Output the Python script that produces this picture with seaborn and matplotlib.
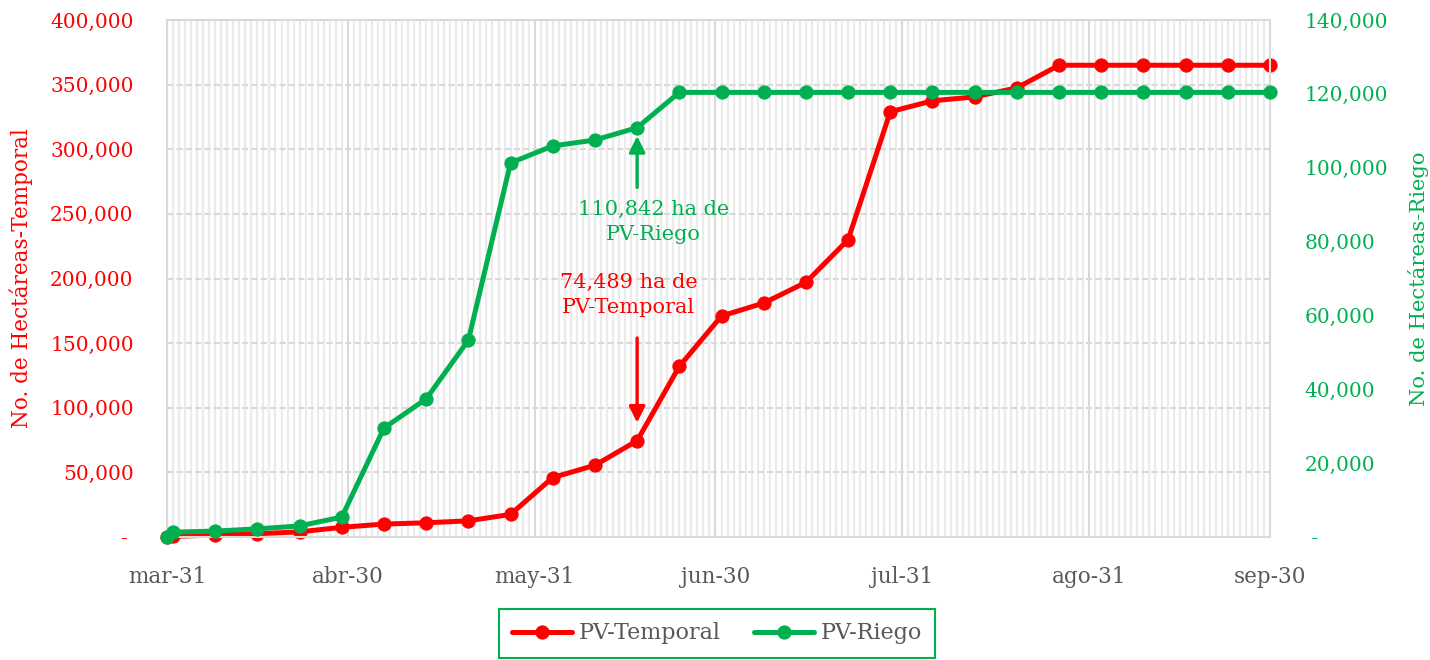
import pandas as pd
import matplotlib
matplotlib.use('Agg')
import matplotlib.pyplot as plt
import matplotlib.dates as mdates
import matplotlib.ticker as mticker
import seaborn as sns

# ---------------- datos ----------------
fechas = ['2019-03-31', '2019-04-01',
          '2019-04-08', '2019-04-15', '2019-04-22', '2019-04-29',
          '2019-05-06', '2019-05-13', '2019-05-20', '2019-05-27',
          '2019-06-03', '2019-06-10', '2019-06-17', '2019-06-24',
          '2019-07-01', '2019-07-08', '2019-07-15', '2019-07-22', '2019-07-29',
          '2019-08-05', '2019-08-12', '2019-08-19', '2019-08-26',
          '2019-09-02', '2019-09-09', '2019-09-16', '2019-09-23', '2019-09-30']

pv_temporal = [0, 500, 1500, 2500, 4000, 7500, 10000, 11000, 12500, 17500,
               46000, 55500, 74489, 132000, 171000, 181000, 197000, 230000,
               329000, 337500, 340500, 347500, 365000, 365000, 365000, 365000,
               365000, 365000]

pv_riego = [0, 1300, 1600, 2200, 3000, 5400, 29500, 37400, 53300, 101300,
            105900, 107500, 110842, 120400, 120400, 120400, 120400, 120400,
            120400, 120400, 120400, 120400, 120400, 120400, 120400, 120400,
            120400, 120400]

ticks_x = ['2019-03-31', '2019-04-30', '2019-05-31', '2019-06-30',
           '2019-07-31', '2019-08-31', '2019-09-30']
etiquetas_x = ['mar-31', 'abr-30', 'may-31', 'jun-30', 'jul-31', 'ago-31', 'sep-30']

fecha_nota = '2019-06-17'
nota_temporal = '74,489 ha de\nPV-Temporal'
nota_riego = '110,842 ha de\nPV-Riego'

ROJO = '#ff0000'
VERDE = '#00b050'
GRIS = '#595959'

df = pd.DataFrame({'fecha': pd.to_datetime(fechas),
                   'temporal': pv_temporal,
                   'riego': pv_riego})

sns.set_style('white')
plt.rcParams['font.family'] = ['DejaVu Serif']

fig = plt.figure(figsize=(14.3, 6.6), dpi=100)
ax = fig.add_axes([167 / 1430, 1 - 537 / 660, 1103 / 1430, 517 / 660])
ax2 = ax.twinx()

sns.lineplot(data=df, x='fecha', y='temporal', ax=ax, color=ROJO, linewidth=3.6,
             marker='o', markersize=9.5, markeredgecolor=ROJO, label='PV-Temporal',
             legend=False)
sns.lineplot(data=df, x='fecha', y='riego', ax=ax2, color=VERDE, linewidth=3.6,
             marker='o', markersize=9.5, markeredgecolor=VERDE, label='PV-Riego',
             legend=False)
for ln in ax.lines + ax2.lines:
    ln.set_clip_on(False)

# ejes y
ax.set_ylim(0, 400000)
ax2.set_ylim(0, 140000)
ax.yaxis.set_major_locator(mticker.MultipleLocator(50000))
ax2.yaxis.set_major_locator(mticker.MultipleLocator(20000))
fmt_izq = mticker.FuncFormatter(lambda v, p: '- ' if v == 0 else f'{v:,.0f}')
fmt_der = mticker.FuncFormatter(lambda v, p: ' -' if v == 0 else f'{v:,.0f}')
ax.yaxis.set_major_formatter(fmt_izq)
ax2.yaxis.set_major_formatter(fmt_der)
ax.tick_params(axis='y', colors=ROJO, labelsize=14.5, length=0, pad=24)
ax2.tick_params(axis='y', colors=VERDE, labelsize=14.5, length=0, pad=25)
ax.set_ylabel('No. de Hectáreas-Temporal', color=ROJO, fontsize=15.5, labelpad=12)
ax2.set_ylabel('No. de Hectáreas-Riego', color=VERDE, fontsize=15.2, labelpad=14)

# eje x
ax.set_xlim(pd.Timestamp(ticks_x[0]), pd.Timestamp(ticks_x[-1]))
ax.set_xticks(pd.to_datetime(ticks_x))
ax.set_xticklabels(etiquetas_x)
ax.xaxis.set_minor_locator(mdates.DayLocator())
ax.tick_params(axis='x', which='major', colors='#d9d9d9', labelcolor=GRIS,
               labelsize=15.5, length=6, width=1.5, pad=15, direction='out')
ax.tick_params(axis='x', which='minor', length=0)
ax.set_xlabel('')

# rejilla
ax.grid(True, axis='x', which='minor', color='#ebebeb', linewidth=1.6)
ax.grid(True, axis='x', which='major', color='#d9d9d9', linewidth=1.5)
ax.grid(True, axis='y', which='major', color='#d9d9d9', linewidth=1.5, linestyle=(0, (3, 1.5)))
ax.set_axisbelow(True)
for s in ax.spines.values():
    s.set_color('#d9d9d9')
    s.set_linewidth(1.5)
for s in ax2.spines.values():
    s.set_visible(False)

# anotaciones
x_nota = pd.Timestamp(fecha_nota)
y_temp = df.loc[df['fecha'] == x_nota, 'temporal'].iloc[0]
y_riego = df.loc[df['fecha'] == x_nota, 'riego'].iloc[0]

ax.annotate('', xy=(x_nota, y_temp), xytext=(0, 74), textcoords='offset points',
            arrowprops=dict(arrowstyle='-|>', color=ROJO, lw=2.4, mutation_scale=24,
                            shrinkA=0, shrinkB=13))
ax.annotate(nota_temporal, xy=(x_nota, y_temp), xytext=(-6, 105), textcoords='offset points',
            ha='center', va='center', color=ROJO, fontsize=15, linespacing=1.42)
ax2.annotate('', xy=(x_nota, y_riego), xytext=(0, -43), textcoords='offset points',
             arrowprops=dict(arrowstyle='-|>', color=VERDE, lw=2.4, mutation_scale=24,
                             shrinkA=0, shrinkB=6))
ax2.annotate(nota_riego, xy=(x_nota, y_riego), xytext=(12, -68), textcoords='offset points',
             ha='center', va='center', color=VERDE, fontsize=15, linespacing=1.42)

# leyenda
h1, l1 = ax.get_legend_handles_labels()
h2, l2 = ax2.get_legend_handles_labels()
leg = fig.legend(h1 + h2, l1 + l2, loc='upper center', bbox_to_anchor=(717 / 1430, 1 - 609 / 660),
                 ncol=2, fontsize=16, frameon=True, fancybox=False, framealpha=1,
                 edgecolor=VERDE, handlelength=2.7, handletextpad=0.3, columnspacing=1.5,
                 borderpad=0.6, borderaxespad=0)
leg.get_frame().set_linewidth(1.5)
for t in leg.get_texts():
    t.set_color(GRIS)

fig.savefig('out.png', dpi=100)
